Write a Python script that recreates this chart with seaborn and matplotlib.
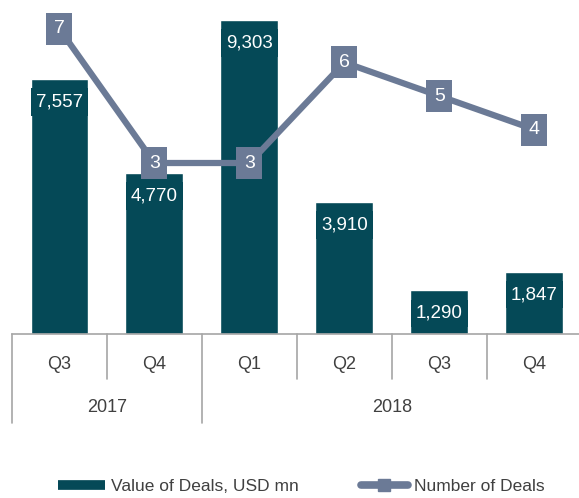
import matplotlib
matplotlib.use("Agg")
import matplotlib.pyplot as plt
import seaborn as sns
from matplotlib.lines import Line2D

# chart data
quarters = ['Q3', 'Q4', 'Q1', 'Q2', 'Q3', 'Q4']
years = ['2017', '2018']
year_spans = [(0, 1), (2, 5)]
deal_values = [7557, 4770, 9303, 3910, 1290, 1847]
deal_counts = [7, 3, 3, 6, 5, 4]

TEAL = '#054957'
SLATE = '#6B7A96'
GRID = '#A6A6A6'
TEXT = '#404040'

sns.set_theme(style="white")
plt.rcParams['font.family'] = ['Liberation Sans', 'DejaVu Sans']

fig = plt.figure(figsize=(5.79, 4.98), dpi=100)
ax = fig.add_axes([12 / 579, 164 / 498, 567 / 579, 324 / 498])

# bars
pos = list(range(len(quarters)))
sns.barplot(x=pos, y=deal_values, color=TEAL, width=0.61, saturation=1,
            ax=ax, native_scale=True)
ax.set_xlim(-0.5, 5.47)
ax.set_ylim(0, 9603)

for x, v in zip(pos, deal_values):
    ax.annotate(f"{v:,}", xy=(x, v), xytext=(0, -16.5), textcoords='offset points',
                ha='center', va='center', color='white', fontsize=13.5,
                bbox=dict(boxstyle='square,pad=0.28', fc=TEAL, ec='none'))

# line on a second axis
ax2 = ax.twinx()
box = [(-0.8, -1), (0.8, -1), (0.8, 1), (-0.8, 1), (-0.8, -1)]
sns.lineplot(x=pos, y=deal_counts, color=SLATE, linewidth=4.5, marker=box,
             markersize=23, markeredgewidth=0, ax=ax2)
ax2.set_ylim(-2.104, 7.567)
for x, n in zip(pos, deal_counts):
    ax2.text(x, n, str(n), ha='center', va='center', color='white', fontsize=14)

# clean axes
for a in (ax, ax2):
    a.set_yticks([])
    a.set_xticks([])
    a.set_xlabel('')
    a.set_ylabel('')
    for s in ('top', 'left', 'right'):
        a.spines[s].set_visible(False)
ax2.spines['bottom'].set_visible(False)
ax.spines['bottom'].set_color(GRID)
ax.spines['bottom'].set_linewidth(1.2)

# two-level category axis
trans = ax.get_xaxis_transform()
for x, q in zip(pos, quarters):
    ax.text(x, -0.0926, q, transform=trans, ha='center', va='center',
            fontsize=13, color=TEXT)
for (a, b), y in zip(year_spans, years):
    ax.text((a + b) / 2, -0.228, y, transform=trans, ha='center', va='center',
            fontsize=13, color=TEXT)
for x in [0.5, 2.5, 3.5, 4.5]:
    ax.plot([x, x], [0, -0.139], transform=trans, color=GRID, lw=1.2, clip_on=False)
for x in [-0.5, 1.5]:
    ax.plot([x, x], [0, -0.275], transform=trans, color=GRID, lw=1.2, clip_on=False)

# legend
handles = [Line2D([0], [0], color=TEAL, lw=7, solid_capstyle='butt'),
           Line2D([0], [0], color=SLATE, lw=5.5, marker='s', markersize=8,
                  solid_capstyle='round')]
leg = fig.legend(handles, ['Value of Deals, USD mn', 'Number of Deals'],
                 loc='center', bbox_to_anchor=(0.52, 0.024), ncol=2, frameon=False,
                 fontsize=12.5, handlelength=2.7, handletextpad=0.35, columnspacing=3.6)
for t in leg.get_texts():
    t.set_color(TEXT)

fig.savefig('out.png', dpi=100)
